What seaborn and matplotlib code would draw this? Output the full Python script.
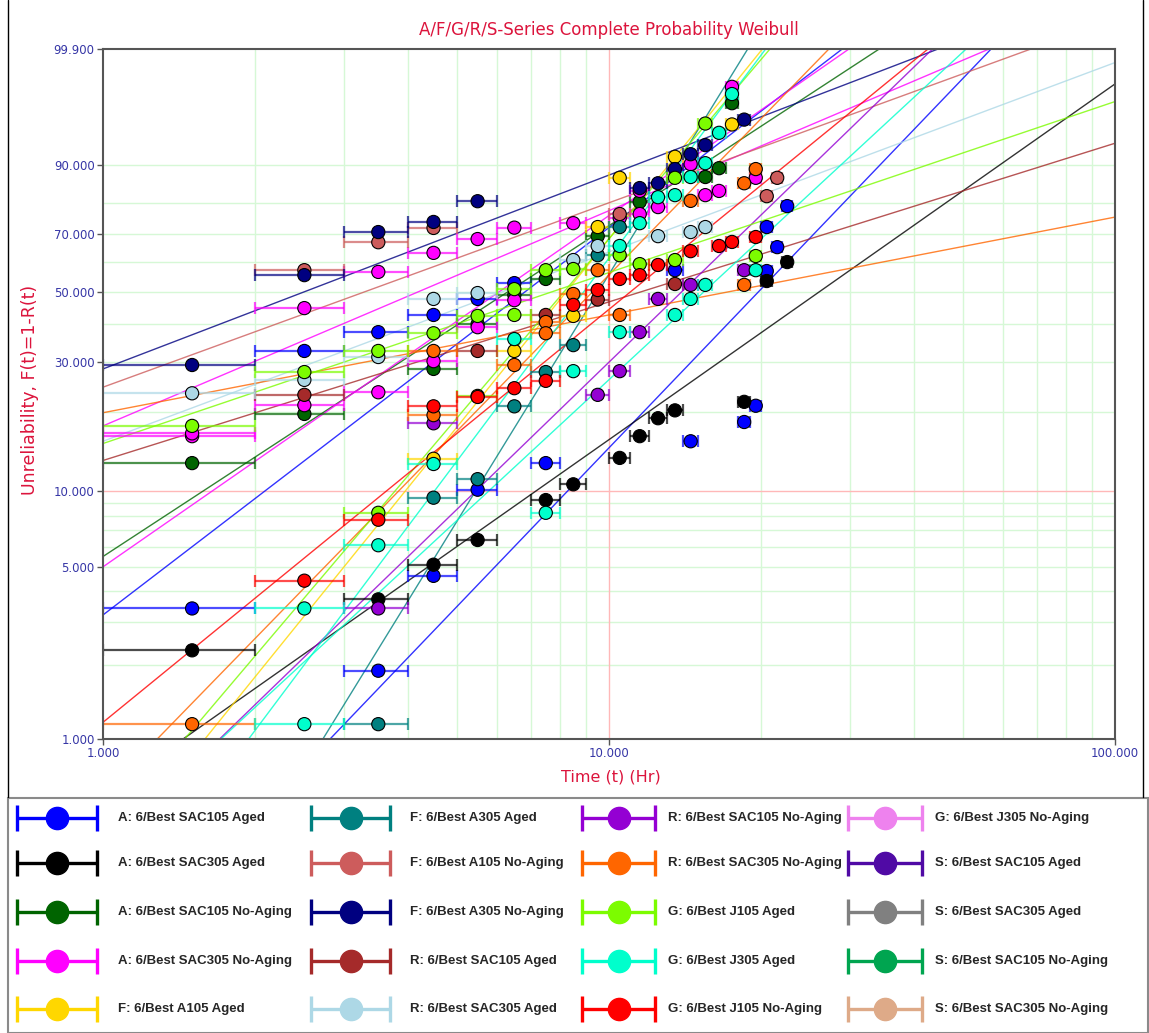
import numpy as np
import pandas as pd
import matplotlib
matplotlib.use("Agg")
import matplotlib.pyplot as plt
import seaborn as sns
from matplotlib.patches import Rectangle
from matplotlib.ticker import NullLocator

# ---------------------------------------------------------------- series
SERIES = [
    "A: 6/Best SAC105 Aged", "A: 6/Best SAC305 Aged",
    "A: 6/Best SAC105 No-Aging", "A: 6/Best SAC305 No-Aging",
    "F: 6/Best A105 Aged", "F: 6/Best A305 Aged",
    "F: 6/Best A105 No-Aging", "F: 6/Best A305 No-Aging",
    "R: 6/Best SAC105 Aged", "R: 6/Best SAC305 Aged",
    "R: 6/Best SAC105 No-Aging", "R: 6/Best SAC305 No-Aging",
    "G: 6/Best J105 Aged", "G: 6/Best J305 Aged",
    "G: 6/Best J105 No-Aging", "G: 6/Best J305 No-Aging",
    "S: 6/Best SAC105 Aged", "S: 6/Best SAC305 Aged",
    "S: 6/Best SAC105 No-Aging", "S: 6/Best SAC305 No-Aging",
]
COLORS = [
    "#0000FF", "#000000", "#006400", "#FF00FF",
    "#FFD700", "#008080", "#CD5C5C", "#000080",
    "#A52A2A", "#ADD8E6", "#9400D3", "#FF6600",
    "#7CFC00", "#00FFCC", "#FF0000", "#EE82EE",
    "#500AA5", "#808080", "#00A550", "#DEAA88",
]

# ------------------------------------------- interval failures (start hour, F %)
# every inspection interval is one hour long: [start, start + 1]
A_SAC105_AGED_START = [1, 2, 3, 4, 5, 6, 13, 20, 20, 21, 22, 3, 4, 5, 7, 14, 18, 19]
A_SAC105_AGED_F = [3.4, 32.7, 37.7, 42.7, 47.7, 52.9, 57.3, 57.0, 72.2, 65.3, 79.0,
                   1.9, 4.6, 10.1, 12.8, 15.5, 18.3, 21.0]

A_SAC305_AGED_START = [1, 3, 4, 5, 7, 8, 10, 11, 12, 13, 18, 20, 22]
A_SAC305_AGED_F = [2.3, 3.7, 5.1, 6.4, 9.2, 10.6, 13.4, 16.2, 18.9, 20.2, 21.7, 53.6, 60.1]

A_SAC105_NOAGING_START = [1, 2, 4, 5, 6, 7, 9, 11, 15, 16, 17]
A_SAC105_NOAGING_F = [12.8, 19.6, 28.4, 40.0, 49.0, 54.3, 69.1, 80.3, 87.2, 89.3, 98.4]

A_SAC305_NOAGING_START = [1, 1, 2, 2, 3, 3, 4, 4, 5, 5, 6, 6, 8, 10, 11, 11, 12, 14, 15, 16, 17, 19]
A_SAC305_NOAGING_F = [16.2, 16.6, 44.8, 21.1, 56.7, 23.5, 63.3, 30.2, 68.1, 39.1, 72.0,
                      47.3, 73.5, 75.2, 83.5, 76.5, 78.7, 90.2, 82.3, 83.5, 99.2, 87.0]

F_A105_AGED_START = [4, 6, 8, 9, 10, 13, 17]
F_A105_AGED_F = [13.3, 32.7, 42.4, 72.2, 87.0, 91.7, 96.6]

F_A305_AGED_START = [3, 4, 5, 6, 7, 8, 9, 10]
F_A305_AGED_F = [1.15, 9.4, 11.1, 20.9, 27.7, 34.2, 62.5, 72.2]

F_A105_NOAGING_START = [2, 3, 4, 10, 20, 21]
F_A105_NOAGING_F = [57.3, 67.0, 71.9, 76.5, 82.0, 87.0]

F_A305_NOAGING_START = [1, 2, 3, 4, 5, 11, 12, 13, 14, 15, 18]
F_A305_NOAGING_F = [29.3, 55.6, 70.5, 73.9, 80.5, 84.3, 85.6, 89.1, 92.2, 93.8, 97.1]

R_SAC105_AGED_START = [2, 5, 7, 9, 13]
R_SAC105_AGED_F = [23.0, 32.7, 42.7, 47.5, 52.6]

R_SAC305_AGED_START = [1, 2, 3, 4, 5, 8, 9, 12, 14, 15]
R_SAC305_AGED_F = [23.3, 26.0, 31.2, 47.7, 49.6, 60.8, 65.7, 69.1, 70.5, 72.2]

R_SAC105_NOAGING_START = [3, 4, 9, 10, 11, 12, 14, 18]
R_SAC105_NOAGING_F = [3.4, 18.1, 23.0, 27.9, 37.7, 47.7, 52.3, 57.3]

R_SAC305_NOAGING_START = [1, 4, 4, 6, 7, 7, 8, 9, 10, 14, 18, 18, 19]
R_SAC305_NOAGING_F = [1.15, 32.7, 19.4, 29.3, 40.6, 37.4, 49.3, 57.3, 42.7, 80.6, 85.6, 52.3, 89.1]

G_J105_AGED_START = [1, 2, 3, 3, 4, 5, 5, 6, 6, 7, 8, 10, 11, 13, 13, 15, 19]
G_J105_AGED_F = [17.7, 27.7, 32.7, 8.2, 37.4, 42.4, 22.8, 50.9, 42.7, 57.3, 57.7,
                 62.5, 59.4, 87.0, 60.8, 96.7, 62.2]

G_J305_AGED_START = [2, 2, 3, 4, 6, 7, 8, 10, 10, 11, 12, 13, 13, 14, 14, 15, 15, 16, 17, 19]
G_J305_AGED_F = [3.4, 1.15, 6.1, 12.7, 35.8, 8.2, 27.9, 65.7, 37.7, 73.5, 81.7, 82.3,
                 42.7, 87.2, 47.7, 90.4, 52.3, 95.6, 98.9, 57.3]

G_J105_NOAGING_START = [2, 3, 4, 5, 6, 7, 8, 9, 10, 11, 12, 14, 16, 17, 19]
G_J105_NOAGING_F = [4.4, 7.7, 20.9, 22.6, 24.3, 25.8, 45.8, 50.6, 54.3, 55.6, 59.1,
                    63.9, 65.7, 67.1, 68.8]

POINTS = {
    SERIES[0]: (A_SAC105_AGED_START, A_SAC105_AGED_F),
    SERIES[1]: (A_SAC305_AGED_START, A_SAC305_AGED_F),
    SERIES[2]: (A_SAC105_NOAGING_START, A_SAC105_NOAGING_F),
    SERIES[3]: (A_SAC305_NOAGING_START, A_SAC305_NOAGING_F),
    SERIES[4]: (F_A105_AGED_START, F_A105_AGED_F),
    SERIES[5]: (F_A305_AGED_START, F_A305_AGED_F),
    SERIES[6]: (F_A105_NOAGING_START, F_A105_NOAGING_F),
    SERIES[7]: (F_A305_NOAGING_START, F_A305_NOAGING_F),
    SERIES[8]: (R_SAC105_AGED_START, R_SAC105_AGED_F),
    SERIES[9]: (R_SAC305_AGED_START, R_SAC305_AGED_F),
    SERIES[10]: (R_SAC105_NOAGING_START, R_SAC105_NOAGING_F),
    SERIES[11]: (R_SAC305_NOAGING_START, R_SAC305_NOAGING_F),
    SERIES[12]: (G_J105_AGED_START, G_J105_AGED_F),
    SERIES[13]: (G_J305_AGED_START, G_J305_AGED_F),
    SERIES[14]: (G_J105_NOAGING_START, G_J105_NOAGING_F),
}

# ------------------------------------------- fitted Weibull lines (end points)
FIT_SERIES = [0, 0, 1, 2, 3, 3, 4, 5, 6, 7, 8, 9, 10, 11, 11, 12, 12, 13, 13, 14]
FIT_T0 = [2.81, 1.0, 1.44, 1.0, 1.0, 1.0, 1.59, 2.72, 1.0, 1.0, 1.0, 1.0, 1.70, 1.0, 1.28,
          1.0, 1.45, 1.94, 1.71, 1.0]
FIT_F0 = [1.0, 3.2, 1.0, 5.5, 5.0, 17.7, 1.0, 1.0, 24.5, 28.4, 13.1, 15.5, 1.0, 19.8, 1.0,
          15.2, 1.0, 1.0, 1.0, 1.17]
FIT_T1 = [56.9, 28.9, 100.0, 34.2, 29.8, 56.4, 20.1, 18.8, 68.2, 44.7, 100.0, 100.0, 43.6,
          100.0, 27.2, 100.0, 20.8, 20.4, 50.8, 42.7]
FIT_F1 = [99.9, 99.9, 99.3, 99.9, 99.9, 99.9, 99.9, 99.9, 99.9, 99.9, 94.1, 99.77, 99.9,
          75.5, 99.9, 98.5, 99.9, 99.9, 99.9, 99.9]

X_TICKS = [1, 10, 100]
Y_TICKS = [1, 5, 10, 30, 50, 70, 90, 99.9]
X_GRID = [2, 3, 4, 5, 6, 7, 8, 9, 20, 30, 40, 50, 60, 70, 80, 90]
Y_GRID = [2, 3, 4, 5, 6, 7, 8, 9, 20, 30, 40, 50, 60, 70, 80, 90]

TITLE = "A/F/G/R/S-Series Complete Probability Weibull"
CRIMSON = "#DC143C"
TICK_BLUE = "#3636A6"
GRID_GREEN = "#D6F8D6"
GRID_PINK = "#FFB8B8"

# ---------------------------------------------------------------- styling
sns.set_theme(style="white")
plt.rcParams["font.family"] = ["DejaVu Sans"]

W, H = 1149, 1033
fig = plt.figure(figsize=(W / 100, H / 100), dpi=100)
fig.patch.set_facecolor("white")
ax = fig.add_axes([103 / W, 1 - 739 / H, (1115 - 103) / W, (739 - 49) / H])


def weibull_fwd(f):
    p = np.clip(np.asarray(f, dtype=float) / 100.0, 1e-12, 1 - 1e-12)
    return np.log(-np.log(1 - p))


def weibull_inv(z):
    return 100.0 * (1 - np.exp(-np.exp(np.asarray(z, dtype=float))))


ax.set_xscale("log")
ax.set_yscale("function", functions=(weibull_fwd, weibull_inv))

for v in X_GRID:
    ax.axvline(v, color=GRID_GREEN, lw=1, zorder=0)
for v in Y_GRID:
    ax.axhline(v, color=GRID_GREEN, lw=1, zorder=0)
ax.axvline(10, color=GRID_PINK, lw=1, zorder=0.5)
ax.axhline(10, color=GRID_PINK, lw=1, zorder=0.5)

palette = dict(zip(SERIES, COLORS))

# fitted lines
fit_df = pd.DataFrame({
    "series": [SERIES[i] for i in FIT_SERIES for _ in range(2)],
    "fit": [k for k in range(len(FIT_SERIES)) for _ in range(2)],
    "t": [v for pair in zip(FIT_T0, FIT_T1) for v in pair],
    "F": [v for pair in zip(FIT_F0, FIT_F1) for v in pair],
})
sns.lineplot(data=fit_df, x="t", y="F", hue="series", units="fit", estimator=None,
             palette=palette, lw=1.0, alpha=0.8, legend=False, sort=False, ax=ax,
             zorder=1)

# interval bars and points
rows = []
for name, (starts, fvals) in POINTS.items():
    starts = np.asarray(starts, dtype=float)
    centers = starts + 0.5
    ax.errorbar(centers, fvals, xerr=[centers - starts, starts + 1 - centers],
                fmt="none", ecolor=palette[name], elinewidth=1.6, capsize=4,
                capthick=1.6, alpha=0.7, zorder=2)
    rows += [(name, c, f) for c, f in zip(centers, fvals)]
pts = pd.DataFrame(rows, columns=["series", "t", "F"])
sns.scatterplot(data=pts, x="t", y="F", hue="series", hue_order=list(POINTS),
                palette=palette, s=90, edgecolor="black", linewidth=0.8,
                legend=False, ax=ax, zorder=4)

ax.set_xlim(1, 100)
ax.set_ylim(1, 99.9)
ax.set_xticks(X_TICKS)
ax.set_xticklabels([f"{v:.3f}" for v in X_TICKS])
ax.set_yticks(Y_TICKS)
ax.set_yticklabels([f"{v:.3f}" for v in Y_TICKS])
ax.xaxis.set_minor_locator(NullLocator())
ax.yaxis.set_minor_locator(NullLocator())
ax.tick_params(axis="both", which="major", direction="out", length=4, width=1,
               color="#555555", labelsize=8.5, labelcolor=TICK_BLUE, pad=2,
               left=True, bottom=True)
ax.set_xlabel("")
ax.set_ylabel("")
for sp in ax.spines.values():
    sp.set_color("#555555")
    sp.set_linewidth(1.5)
ax.grid(False)

# ---------------------------------------------------------------- overlay: texts, frames, legend
ov = fig.add_axes([0, 0, 1, 1])
ov.set_xlim(0, W)
ov.set_ylim(H, 0)
ov.axis("off")
ov.patch.set_alpha(0)

ov.text(609, 30, TITLE, color=CRIMSON, fontsize=12, ha="center", va="center")
ov.text(611, 777, "Time (t) (Hr)", color=CRIMSON, fontsize=11.5, ha="center", va="center")
ov.text(30, 390, "Unreliability, F(t)=1-R(t)", color=CRIMSON, fontsize=12.5,
        ha="center", va="center", rotation=90)

ov.plot([7.5, 7.5], [0, 797], color="black", lw=1)
ov.plot([1142.5, 1142.5], [0, 797], color="black", lw=1)
ov.add_patch(Rectangle((7.5, 797.5), W - 8.5, H - 798, fill=False, ec="#8A8A8A", lw=1.5))

HANDLE_X = [(17, 97), (311, 390), (582, 655), (848, 922)]
TEXT_X = [118, 410, 668, 935]
ROW_Y = [818, 863, 912, 961, 1009]
for i, (name, col) in enumerate(zip(SERIES, COLORS)):
    c, r = divmod(i, 5)
    x0, x1 = HANDLE_X[c]
    y = ROW_Y[r]
    ov.plot([x0, x1], [y, y], color=col, lw=2.4, solid_capstyle="butt")
    ov.plot([x0, x0], [y - 13, y + 13], color=col, lw=2.4, solid_capstyle="butt")
    ov.plot([x1, x1], [y - 13, y + 13], color=col, lw=2.4, solid_capstyle="butt")
    ov.plot([(x0 + x1) / 2], [y], "o", ms=16, color=col, mec=col)
    ov.text(TEXT_X[c], y, name, fontsize=9.5, fontweight="bold", color="#262626",
            ha="left", va="center", family=["Liberation Sans", "DejaVu Sans"])

fig.savefig("out.png", dpi=100, facecolor="white")
